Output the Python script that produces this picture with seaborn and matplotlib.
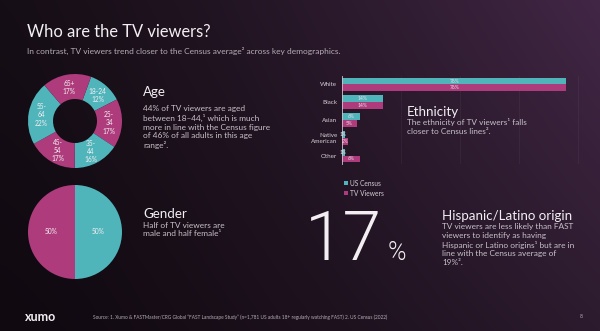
import numpy as np
import pandas as pd
import matplotlib
matplotlib.use("Agg")
import matplotlib.pyplot as plt
import seaborn as sns
from matplotlib.patches import Patch
from matplotlib import font_manager as fm

# ---------------- data ----------------
age_groups = ["18-24", "25-34", "35-44", "45-54", "55-64", "65+"]
age_share = [12, 17, 16, 17, 22, 17]
age_labels = ["18-24\n12%", "25-\n34\n17%", "35-\n44\n16%", "45-\n54\n17%", "55-\n64\n22%", "65+\n17%"]

gender_groups = ["Male", "Female"]
gender_share = [50, 50]

eth_categories = ["White", "Black", "Asian", "Native\nAmerican", "Other"]
us_census = [76, 14, 6, 1, 1]
tv_viewers = [76, 14, 5, 2, 6]
series_names = ["US Census", "TV Viewers"]

hispanic_value = "17"

# ---------------- style ----------------
sns.set_theme(style="white")
FONT = ["Lato", "DejaVu Sans"]
plt.rcParams["font.family"] = FONT

light_family = "Lato"
light_weight = "light"
avail = {(f.name, f.weight) for f in fm.fontManager.ttflist}
for fam, wt in [("Roboto", 300), ("Open Sans", 300), ("Inter", 300), ("Lato", 300)]:
    if (fam, wt) in avail:
        light_family, light_weight = fam, wt
        break

TEAL = "#4fb5bb"
MAGENTA = "#ae3c7c"
WHITE = "#f2eef2"
BODY = "#c9c1c9"
SUB = "#b5acb5"

HEAD_FS = 9.6
BODY_FS = 5.95
LS = 1.25

W, H = 600, 331
fig = plt.figure(figsize=(6.0, 3.31), dpi=100)

def fx(px):
    return px / W

def fy(py):
    return 1 - py / H

# background gradient
bg = fig.add_axes([0, 0, 1, 1], zorder=-10)
c_tl = np.array([0x16, 0x0e, 0x16]) / 255
c_tr = np.array([0x42, 0x27, 0x46]) / 255
c_bl = np.array([0x10, 0x09, 0x10]) / 255
c_br = np.array([0x2c, 0x1b, 0x2e]) / 255
u = np.linspace(0, 1, 300)[None, :, None]
v = np.linspace(0, 1, 166)[:, None, None]
u = u ** 1.3
img = (1 - v) * ((1 - u) * c_tl + u * c_tr) + v * ((1 - u) * c_bl + u * c_br)
bg.imshow(img, aspect="auto", extent=[0, 1, 0, 1], origin="upper")
bg.set_axis_off()

# ---------------- texts ----------------
fig.text(fx(27), fy(37), "Who are the TV viewers?", color=WHITE, fontsize=11.9,
         va="baseline", ha="left")
fig.text(fx(27), fy(54), "In contrast, TV viewers trend closer to the Census average\u00b2 across key demographics.",
         color=SUB, fontsize=6.0, va="baseline", ha="left")

fig.text(fx(143), fy(92), "Age", color=WHITE, fontsize=HEAD_FS, va="center", ha="left")
fig.text(fx(143), fy(105.5), "44% of TV viewers are aged\nbetween 18\u201344,\u00b9 which is much\nmore in line with the Census figure\nof 46% of all adults in this age\nrange\u00b2.",
         color=BODY, fontsize=BODY_FS, va="top", ha="left", linespacing=LS)

fig.text(fx(143), fy(214), "Gender", color=WHITE, fontsize=HEAD_FS, va="center", ha="left")
fig.text(fx(143), fy(221.5), "Half of TV viewers are\nmale and half female\u00b9",
         color=BODY, fontsize=BODY_FS, va="top", ha="left", linespacing=LS)

fig.text(fx(407), fy(112), "Ethnicity", color=WHITE, fontsize=HEAD_FS, va="center", ha="left")
fig.text(fx(407), fy(118.5), "The ethnicity of TV viewers\u00b9 falls\ncloser to Census lines\u00b2.",
         color=BODY, fontsize=BODY_FS, va="top", ha="left", linespacing=LS)

fig.text(fx(442), fy(216), "Hispanic/Latino origin", color=WHITE, fontsize=HEAD_FS, va="center", ha="left")
fig.text(fx(442), fy(223.5), "TV viewers are less likely than FAST\nviewers to identify as having\nHispanic or Latino origins\u00b9 but are in\nline with the Census average of\n19%\u00b2.",
         color=BODY, fontsize=BODY_FS, va="top", ha="left", linespacing=LS)

fig.text(fx(382), fy(260), hispanic_value, color=WHITE, fontsize=50,
         family=light_family, fontweight=light_weight, va="baseline", ha="right")
fig.text(fx(388), fy(260), "%", color=WHITE, fontsize=18,
         family=light_family, fontweight=light_weight, va="baseline", ha="left")

# footer
fig.text(fx(25), fy(317), "xumo", color=WHITE, fontsize=9, fontweight="bold",
         va="center", ha="left")
fig.text(fx(93), fy(317), "Source: 1. Xumo & FASTMaster/CRG Global \u201cFAST Landscape Study\u201d (n=1,781 US adults 18+ regularly watching FAST) 2. US Census (2022)",
         color=SUB, fontsize=3.4, va="center", ha="left")
fig.text(fx(580), fy(317), "8", color=SUB, fontsize=3.6, va="center", ha="left")

# ---------------- age donut ----------------
R_BOX = 50
ax_age = fig.add_axes([fx(75 - R_BOX), fy(121 + R_BOX), 2 * R_BOX / W, 2 * R_BOX / H])
ax_age.set_facecolor("none")
age_colors = [TEAL, MAGENTA, TEAL, MAGENTA, TEAL, MAGENTA]
lab_iter = iter(age_labels)
ax_age.pie(age_share, colors=age_colors, startangle=70, counterclock=False,
           radius=0.94, wedgeprops=dict(width=0.5, edgecolor="none"),
           autopct=lambda p: next(lab_iter), pctdistance=0.73,
           textprops=dict(color=WHITE, fontsize=4.8, linespacing=1.2))
ax_age.set_xlim(-1, 1)
ax_age.set_ylim(-1, 1)
ax_age.set_axis_off()

# ---------------- gender pie ----------------
ax_g = fig.add_axes([fx(75 - R_BOX), fy(232 + R_BOX), 2 * R_BOX / W, 2 * R_BOX / H])
ax_g.set_facecolor("none")
ax_g.pie(gender_share, colors=[TEAL, MAGENTA], startangle=90, counterclock=False,
         radius=0.94, wedgeprops=dict(edgecolor="none"),
         autopct=lambda p: f"{p:.0f}%", pctdistance=0.5,
         textprops=dict(color=WHITE, fontsize=4.8))
ax_g.set_xlim(-1, 1)
ax_g.set_ylim(-1, 1)
ax_g.set_axis_off()

# ---------------- ethnicity bars ----------------
df = pd.DataFrame({
    "category": eth_categories * 2,
    "value": us_census + tv_viewers,
    "series": [series_names[0]] * len(eth_categories) + [series_names[1]] * len(eth_categories),
})
ax_e = fig.add_axes([fx(342), fy(164.4), fx(590) - fx(342), (164.4 - 75.6) / H])
ax_e.set_facecolor("none")
sns.barplot(data=df, y="category", x="value", hue="series", orient="h",
            palette=[TEAL, MAGENTA], width=0.78, ax=ax_e, legend=False,
            saturation=1, linewidth=0, edgecolor="none")
for cont in ax_e.containers:
    ax_e.bar_label(cont, fmt="%g%%", label_type="center", color="#eadfea", fontsize=3.6)
ax_e.set_xlim(0, 84)
ax_e.set_ylim(4.5, -0.5)
ax_e.set_xlabel("")
ax_e.set_ylabel("")
ax_e.set_xticks([20, 40, 60, 80])
ax_e.tick_params(axis="x", length=0, labelbottom=False)
ax_e.tick_params(axis="y", length=0, pad=3.5, labelsize=4.5, labelcolor="#d4ccd4")
for lab in ax_e.get_yticklabels():
    lab.set_linespacing(1.3)
ax_e.grid(axis="x", color="#ffffff", alpha=0.05, linewidth=0.6)
ax_e.grid(axis="y", visible=False)
for s in ["top", "right", "bottom"]:
    ax_e.spines[s].set_visible(False)
ax_e.spines["left"].set_color("#cfc5cf")
ax_e.spines["left"].set_linewidth(0.6)

handles = [Patch(facecolor=TEAL, edgecolor="none", label=series_names[0]),
           Patch(facecolor=MAGENTA, edgecolor="none", label=series_names[1])]
fig.legend(handles=handles, loc="upper left", bbox_to_anchor=(fx(339), fy(175)),
           frameon=False, fontsize=4.8, labelcolor="#d4ccd4", handlelength=0.6,
           handleheight=0.6, handletextpad=0.4, labelspacing=0.45, borderpad=0.2)

fig.savefig("out.png", dpi=100)
